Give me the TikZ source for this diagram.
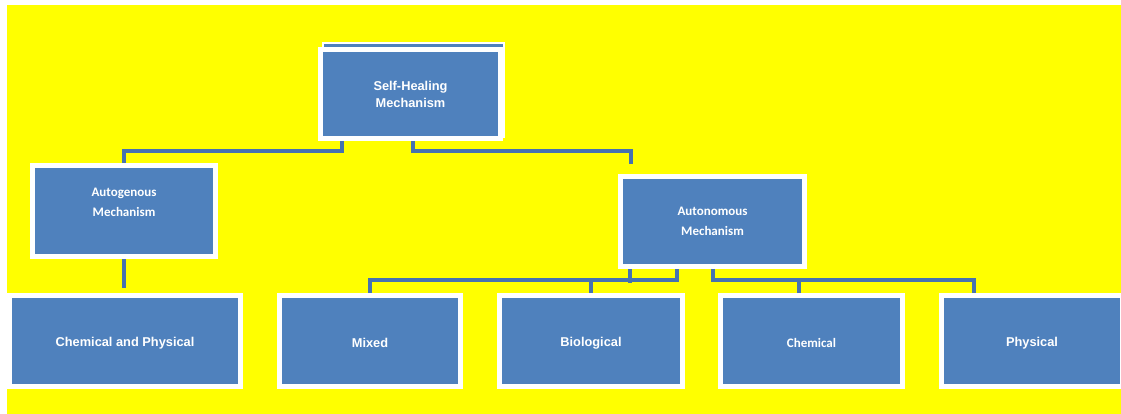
\documentclass[tikz,border=0pt]{standalone}
\usepackage{fontspec}
\setmainfont{Liberation Sans}
\newfontfamily\calib{Carlito}
\definecolor{bx}{RGB}{79,129,189}
\definecolor{cn}{RGB}{70,114,176}
\definecolor{yl}{RGB}{255,255,0}
\pgfdeclarelayer{bgl}
\pgfdeclarelayer{cnl}
\pgfsetlayers{bgl,cnl,main}
\tikzset{
  bbox/.style={draw=white, line width=5pt, fill=bx, inner sep=0pt, text=white, font=\bfseries\fontsize{12.8}{17}\selectfont, align=center},
  cbox/.style={bbox, font=\calib\bfseries\fontsize{13}{19.5}\selectfont},
  lblc/.style={text=white, font=\calib\bfseries\fontsize{13}{19.5}\selectfont, align=center, inner sep=0pt},
  conn/.style={draw=cn, line width=4pt, line join=miter}
}
\newcommand{\lowr}[1]{\raisebox{-2pt}[\height][\depth]{#1}}
\begin{document}
\begin{tikzpicture}[x=1pt,y=-1pt]
\useasboundingbox (0,0) rectangle (1121,414);
\begin{pgfonlayer}{bgl}
\fill[white] (0,0) rectangle (1121,414);
\fill[yl] (7,5) rectangle (1121,414);
\end{pgfonlayer}
% nodes
\node[bbox, line width=2pt, minimum width=181pt, minimum height=94pt] (shb) at (413.5,90) {};
\node[bbox, minimum width=180pt, minimum height=89pt] (sh) at (410.5,94) {Self-Healing\\Mechanism};
\node[cbox, minimum width=183pt, minimum height=91pt,
  label={[lblc, yshift=8.5pt]center:{Autogenous\\Mechanism}}] (ag) at (124,211) {};
\node[cbox, minimum width=184pt, minimum height=90pt] (an) at (712.5,221.5) {Autonomous\\Mechanism};
\node[bbox, minimum width=231pt, minimum height=91pt] (cp) at (125,341) {\lowr{Chemical and Physical}};
\node[bbox, minimum width=181pt, minimum height=91pt] (mx) at (370,341) {\lowr{Mixed}};
\node[bbox, minimum width=183pt, minimum height=91pt] (bio) at (591,341) {\lowr{Biological}};
\node[cbox, minimum width=182pt, minimum height=91pt] (ch) at (811.5,341) {\lowr{Chemical}};
\node[bbox, minimum width=181pt, minimum height=91pt] (ph) at (1032,341) {\lowr{Physical}};
\coordinate (anin) at (631,164);
\begin{pgfonlayer}{cnl}
\draw[conn] ([xshift=-68.5]sh.south) -- ++(0,10) -| (ag.north);
\draw[conn] ([xshift=2.5]sh.south) -- ++(0,10) -| (anin);
\draw[conn] (ag.south) -- ++(0,29);
\draw[conn] (mx.north) -- ++(0,-13.5) -| ([xshift=-35.5]an.south);
\draw[conn] ([xshift=-82.5]an.south) -- ++(0,14);
\draw[conn] (bio.north) -- ++(0,-13.5);
\draw[conn] ([xshift=-58]ph.north) -- ++(0,-13.5) -| ([xshift=0]an.south);
\draw[conn] ([xshift=-12.5]ch.north) -- ++(0,-13.5);
\end{pgfonlayer}
\end{tikzpicture}
\end{document}
